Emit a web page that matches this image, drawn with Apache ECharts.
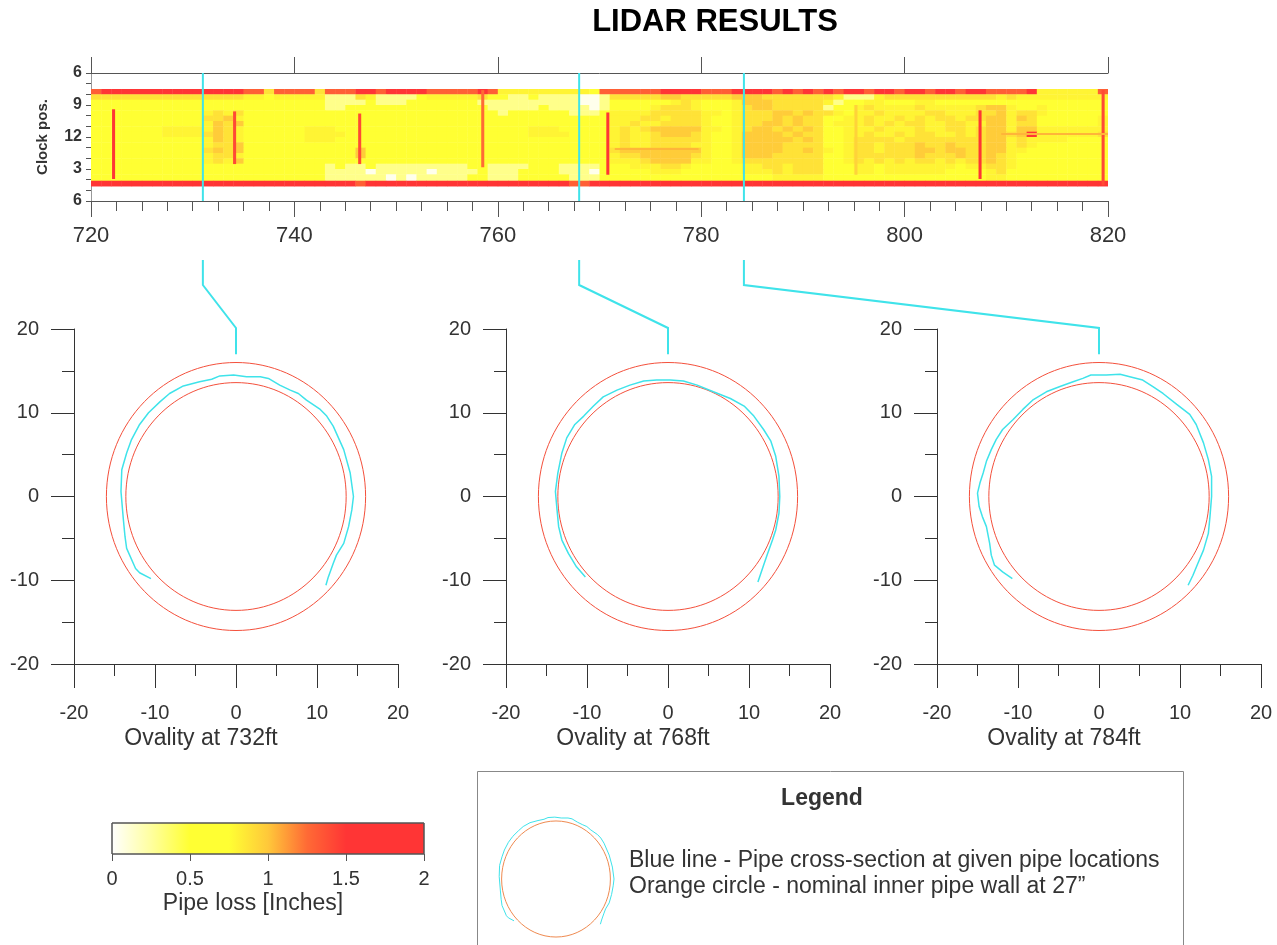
<!DOCTYPE html>
<html>
<head>
<meta charset="UTF-8">
<title>LIDAR RESULTS</title>
<style>
    html, body { margin: 0; padding: 0; background: #fff; }
    #main { width: 1277px; height: 945px; }
</style>
<script src="https://cdn.jsdelivr.net/npm/echarts@6/dist/echarts.min.js"></script>
</head>
<body>
<div id="main"></div>
<script>
// ---- data ----
var ftMin = 720, ftMax = 820;
var clockLabels = ['6', '9', '12', '3', '6'];          // one label every 3 hours, top to bottom
var rowEdges = [1.5, 2.0, 2.5, 3.0, 3.5, 4.0, 4.5, 5.0, 5.5, 6.0, 6.5, 7.0, 7.5, 8.0, 8.5, 9.0, 9.5, 10.1, 10.6];

// one character per foot (720 .. 819), one string per clock band
// w white, p pale, y yellow, s slight speckle, o orange speckle, O dense orange, R orange-red, r red
var stripRows = [
    "Rrrrrrrrrr rrrrrRRoRR RRoRRRrrRr rrrRRRRRrR sssssssssy RRRRRRrrrr RRRrrrrRrR rRrRrrRrrR rrRrrRrrRR RRrssssssR",
    "oooooooooo ooooossyss ssspppospp ppysssssoy yppyppppww poooooOOoo oooOOOoooo ooospppsoo ooooooooos osssssssss",
    "yyyyyyyyyy yyyyyyyyyy yyyppppypp pyyyyyyypp ppppppppww pyyyyyysos yyysOOOooo oospyyssyy yssyyyyyyy yyyyyyyyyy",
    "yyyyyyyyyy yyyyyyyyyy yyyppyyyyy yyyyyyyyyp ppppyppppw pyyyysooos yyysoOOooo oopyysosss sosssssoOO syysyyyyyy",
    "yyyyyyyyyy ysosoyyyyy yyyyyyyyyy yyyyyyyyyy pyyyyyyppp yssssooooo ssysoooOOo Ooosyssoss ssoosssooO soosyyyyyy",
    "yyyyyyyyyy yooOsyyyyy yyyyyyyyyy yyyyyyyyyy yyyyyyyyyy ysssoosooo syysoooOoO ooyyssosso sosoosooOO sOoyyyyyys",
    "yyyyyyyyyy ysOoOyyyyy yyyyyyyyyy yyyyyyyyyy yyyyyyyyyy yssossoooo syysooOOoO ooysssosos oossoossOO sooyyyyyys",
    "yyyyyyysss ssOosyyyyy ysssyyyyyy yyyyyyyyyy yyysssyyyy ysosoOOOOO ssysoOOoOo Ooyysssoss sossoosoOO sOOsssssss",
    "yyyyyyysss soOosyyyyy yssssyyyyy yyyyyyyyyy yyyssssyyy ysossoOOOo syysOOOOoO ooyyssosso soossosoOO oOrsssssso",
    "yyyyyyyyyy ysOosyyyyy ysssyyyyyy yyyyyyyyyy yyyyyyyyyy ysossooooo syysOOOOOo Ooyysoooos ooooooooOO sossssyyyy",
    "yyyyyyyyyy ysooOyyyyy yyyyyyyyyy yyyyyyyyyy yyyyyyyyyy ysossoooos syysOOOOoo ooyysoosoo oOooOoooOO sosyyyyyyy",
    "yyyyyyyyyy yoOoOyyyyy yyyyyyOyyy yyyyyyyyyy yyyyyyyyyy yoOOOOOOOO syysOOOOoo Oosysoosoo oOOoOOooOO ssyyyyyyyy",
    "yyyyyyyyyy ysoosyyyyy yyyyyyOyyy yyyyyyyyyy yyyyyyyyyy ysooOOOOOo syysOOOooo ooyysooooo oOoooOooOo syyyyyyyyy",
    "yyyyyyyyyy ysosOyyyyy yyyyyyyyyy yyyyyyyyyy yyyyyyyyyy ysssoOOOOs syysoooooo ooyysososo soososooOo syyyyyyyyy",
    "yyyyyyyyyy yyyyyyyyyy yyypyppypp pppppppyyp pppyyypppp yyysssoosy yyyyssooso ooyyyssyss sssssyssoo syyyyyyyyy",
    "yyyyyyyyyy yyyyyyyyyy yyyppppwpp pppwppppyp ppyyyypppw yyyyysssyy yyyysssoso ooyyyssyss ssssyyyyso yyyyyyyyyy",
    "yyyyyyyyyy yyyyyyyyyy yyyppppppw pwpppppyyp ppyyyyyppp yyyyyyyyyy yyyyyyysss ssyyyyyyyy yyyyyyyyss yyyyyyyyyy",
    "rrrrrrrrrr rrrrrrrrrr rrrrrrRrrr rrrrrrrrrr rrrrrrrRRr rrrrrrrrrr rrrrrrrrrr rrrrrrrrrr rrrrrrrrrr rrrrrrrrrr"
];
var lossCode = { w: 0.05, p: 0.3, y: 0.6, s: 0.8, o: 0.88, O: 0.98, R: 1.3, r: 1.6 };

// thin vertical red lines: ft, from hour, to hour, loss
var redStreaks = [
    [722.2, 3.4, 9.9, 1.5], [734.1, 3.6, 8.5, 1.4], [746.4, 3.8, 8.5, 1.4], [758.5, 1.6, 8.8, 1.25],
    [770.8, 3.7, 9.5, 1.6], [795.2, 3.0, 9.5, 0.95], [807.4, 3.5, 9.9, 1.5], [819.5, 1.6, 10.5, 1.4]
];
// thin horizontal orange lines: from ft, to ft, hour, loss
var orangeLines = [[771.5, 779.7, 7.1, 1.05], [809.5, 820, 5.7, 1.05]];

var cutFt = [731, 768, 784.2];
var cutNames = ['Ovality at 732ft', 'Ovality at 768ft', 'Ovality at 784ft'];
var pipeRadii = [16, 13.6];

var trace732 = [[-10.5,-9.8],[-11.9,-9.1],[-12.4,-8.6],[-13.5,-6.2],[-13.7,-4.8],[-13.9,-2.8],[-14.2,0.6],[-14.1,3.2],[-13.5,5.2],[-12.9,6.8],[-11.9,8.6],[-10.8,10.0],[-9.4,11.3],[-8.2,12.3],[-6.5,13.2],[-4.5,13.7],[-3.0,14.0],[-2.0,14.4],[-0.3,14.5],[1.3,14.3],[3.0,14.3],[4.0,14.1],[5.4,13.3],[6.7,12.7],[7.7,12.3],[8.7,11.5],[10.4,10.4],[11.2,9.6],[12.0,8.4],[13.3,5.6],[14.1,2.8],[14.5,0],[14.3,-1.6],[13.9,-3.6],[13.3,-5.6],[12.4,-7.0],[12.0,-8.0],[11.4,-9.6],[11.1,-10.6]];
var trace768 = [[-10.2,-9.6],[-11.3,-8.4],[-12.3,-6.8],[-13.1,-5.2],[-13.5,-3.6],[-13.7,-1.6],[-13.9,0.6],[-13.6,2.8],[-13.1,5.2],[-12.5,7.0],[-11.5,8.6],[-10.4,9.6],[-9.2,10.8],[-8.0,11.9],[-6.3,12.7],[-4.7,13.3],[-3.0,13.8],[-1.4,13.9],[0.3,13.9],[1.9,13.8],[3.6,13.3],[5.6,12.5],[7.7,11.7],[9.4,10.8],[10.6,9.6],[11.8,8.0],[12.7,6.6],[13.3,4.8],[13.7,2.4],[13.8,0],[13.7,-2.0],[13.3,-4.0],[12.9,-5.2],[12.3,-6.8],[11.8,-8.2],[11.1,-10.2]];
var trace784 = [[-10.7,-9.8],[-11.9,-9.0],[-12.9,-8.2],[-13.3,-7.0],[-13.5,-5.6],[-13.9,-3.6],[-14.4,-2.4],[-14.8,-1.2],[-15.0,0.4],[-14.7,1.6],[-14.3,2.8],[-13.9,4.2],[-13.3,5.6],[-12.7,6.8],[-11.9,8.0],[-10.6,9.2],[-9.4,10.4],[-8.2,11.5],[-6.5,12.5],[-4.9,13.1],[-3.2,13.7],[-2.0,14.1],[-1.0,14.5],[0.9,14.5],[2.6,14.6],[3.8,14.3],[5.4,13.9],[6.7,13.1],[7.9,12.3],[9.6,11.0],[11.2,9.8],[12.0,8.6],[12.9,6.4],[13.5,4.4],[13.9,2.4],[13.9,0],[13.7,-2.4],[13.5,-4.4],[12.9,-6.4],[12.2,-8.0],[11.6,-9.4],[11.0,-10.6]];
var traces = [trace732, trace768, trace784];

// colour scale of the pipe loss, one colour every 0.25 inch from 0 to 2
var lossColors = ['#ffffff', '#ffffa0', '#ffff33', '#ffff33', '#ffc83a', '#ff6a35', '#ff3535', '#ff3535', '#ff3535'];

// ---- build ----
var FONT = "'Liberation Sans', Arial, sans-serif";
var CYAN = '#3fe3ea';
var PIPE = '#f4503c';
var TXT = '#333';

var stripData = [];
stripRows.forEach(function (row, r) {
    var chars = row.replace(/ /g, '');
    for (var i = 0; i < chars.length; i++) {
        var v = lossCode[chars[i]];
        if (v === undefined) v = 0.6;
        stripData.push([ftMin + i, rowEdges[r], ftMin + i + 1, rowEdges[r + 1], v]);
    }
});
redStreaks.forEach(function (s) {
    stripData.push([s[0] - 0.13, s[1], s[0] + 0.13, s[2], s[3]]);
});
orangeLines.forEach(function (s) {
    stripData.push([s[0], s[2] - 0.08, s[1], s[2] + 0.08, s[3]]);
});

function renderCell(params, api) {
    var a = api.coord([api.value(0), api.value(1)]);
    var b = api.coord([api.value(2), api.value(3)]);
    return {
        type: 'rect',
        shape: { x: a[0], y: a[1], width: b[0] - a[0] + 0.4, height: b[1] - a[1] + 0.4 },
        style: { fill: api.visual('color') }
    };
}

function circleRenderer(color) {
    return function (params, api) {
        var c = api.coord([api.value(0), api.value(1)]);
        var s = api.size([api.value(2), api.value(2)]);
        return {
            type: 'ellipse',
            shape: { cx: c[0], cy: c[1], rx: s[0], ry: s[1] },
            style: { fill: 'none', stroke: color, lineWidth: 1 }
        };
    };
}

function renderBar(params, api) {
    var a = api.coord([api.value(0), 1]);
    var b = api.coord([api.value(1), 0]);
    var stops = lossColors.map(function (c, i) {
        return { offset: i / (lossColors.length - 1), color: c };
    });
    return {
        type: 'rect',
        shape: { x: a[0], y: a[1], width: b[0] - a[0], height: b[1] - a[1] },
        style: { fill: new echarts.graphic.LinearGradient(0, 0, 1, 0, stops), stroke: '#555', lineWidth: 1 }
    };
}

var plotLefts = [74, 506, 937];

var grids = [{ left: 91, top: 73, width: 1017, height: 128 }];
plotLefts.forEach(function (l) {
    grids.push({ left: l, top: 329, width: 324, height: 335 });
});
grids.push({ left: 112, top: 823, width: 312, height: 31 });   // colour bar
grids.push({ left: 496, top: 815, width: 120, height: 128 });  // legend icon

var xAxes = [
    {
        gridIndex: 0, type: 'value', min: ftMin, max: ftMax, interval: 20, position: 'bottom',
        axisLine: { onZero: false, lineStyle: { color: '#555' } },
        axisTick: { length: 16, lineStyle: { color: '#555' } },
        minorTick: { show: true, splitNumber: 8, length: 10, lineStyle: { color: '#555' } },
        axisLabel: { fontSize: 22, color: TXT, margin: 24, fontFamily: FONT },
        splitLine: { show: false }, minorSplitLine: { show: false }
    },
    {
        gridIndex: 0, type: 'value', min: ftMin, max: ftMax, interval: 20, position: 'top',
        axisLine: { onZero: false, lineStyle: { color: '#555' } },
        axisTick: { length: 16, lineStyle: { color: '#555' } },
        axisLabel: { show: false },
        splitLine: { show: false }
    }
];
var yAxes = [
    {
        gridIndex: 0, type: 'value', min: 0, max: 12, interval: 3, inverse: true,
        axisLine: { onZero: false, lineStyle: { color: '#999' } },
        axisTick: { length: 5, lineStyle: { color: '#555' } },
        minorTick: { show: true, splitNumber: 3, length: 5, lineStyle: { color: '#555' } },
        axisLabel: {
            fontSize: 16, fontWeight: 'bold', color: TXT, margin: 9, fontFamily: FONT,
            formatter: function (v) { return clockLabels[Math.round(v / 3)]; }
        },
        name: 'Clock pos.', nameLocation: 'middle', nameGap: 41, nameRotate: 90,
        nameTextStyle: { fontSize: 15, fontWeight: 'bold', color: TXT, fontFamily: FONT },
        splitLine: { show: false }, minorSplitLine: { show: false }
    }
];
cutNames.forEach(function (name, i) {
    xAxes.push({
        gridIndex: i + 1, type: 'value', min: -20, max: 20, interval: 10,
        axisLine: { onZero: false, lineStyle: { color: '#333' } },
        axisTick: { length: 24, lineStyle: { color: '#333' } },
        minorTick: { show: true, splitNumber: 2, length: 12, lineStyle: { color: '#333' } },
        axisLabel: { fontSize: 20, color: TXT, margin: 39, fontFamily: FONT },
        name: name, nameLocation: 'middle', nameGap: 63,
        nameTextStyle: { fontSize: 23, color: TXT, fontFamily: FONT, padding: [0, 70, 0, 0] },
        splitLine: { show: false }, minorSplitLine: { show: false }
    });
    yAxes.push({
        gridIndex: i + 1, type: 'value', min: -20, max: 20, interval: 10,
        axisLine: { onZero: false, lineStyle: { color: '#333' } },
        axisTick: { length: 23, lineStyle: { color: '#333' } },
        minorTick: { show: true, splitNumber: 2, length: 12, lineStyle: { color: '#333' } },
        axisLabel: { fontSize: 20, color: TXT, margin: 35, fontFamily: FONT },
        splitLine: { show: false }, minorSplitLine: { show: false }
    });
});
xAxes.push({
    gridIndex: 4, type: 'value', min: 0, max: 2, interval: 0.5,
    axisLine: { show: false },
    axisTick: { length: 7, lineStyle: { color: '#555' } },
    axisLabel: { fontSize: 20, color: TXT, margin: 15, fontFamily: FONT },
    name: 'Pipe loss [Inches]', nameLocation: 'middle', nameGap: 38,
    nameTextStyle: { fontSize: 23, color: TXT, fontFamily: FONT, padding: [0, 30, 0, 0] },
    splitLine: { show: false }
});
yAxes.push({ gridIndex: 4, type: 'value', min: 0, max: 1, show: false });
xAxes.push({ gridIndex: 5, type: 'value', min: -15, max: 15, show: false });
yAxes.push({ gridIndex: 5, type: 'value', min: -15, max: 15, show: false });

var series = [{
    type: 'custom', name: 'strip', xAxisIndex: 0, yAxisIndex: 0,
    renderItem: renderCell, encode: { x: [0, 2], y: [1, 3] },
    data: stripData, clip: true, silent: true
}];
cutFt.forEach(function (ft) {
    series.push({
        type: 'line', xAxisIndex: 0, yAxisIndex: 0, z: 5, symbol: 'none',
        lineStyle: { color: CYAN, width: 2 },
        data: [[ft, 0], [ft, 12]]
    });
});
traces.forEach(function (t, i) {
    series.push({
        type: 'custom', xAxisIndex: i + 2, yAxisIndex: i + 1,
        renderItem: circleRenderer(PIPE),
        data: pipeRadii.map(function (r) { return [0, 0, r]; })
    });
    series.push({
        type: 'line', xAxisIndex: i + 2, yAxisIndex: i + 1, symbol: 'none', z: 4,
        lineStyle: { color: CYAN, width: 1.5 },
        data: t
    });
});
series.push({
    type: 'custom', xAxisIndex: 5, yAxisIndex: 4,
    renderItem: renderBar, data: [[0, 2]]
});
series.push({
    type: 'custom', xAxisIndex: 6, yAxisIndex: 5,
    renderItem: circleRenderer('#ef8a50'),
    data: [[0, 0, pipeRadii[1]]]
});
series.push({
    type: 'line', xAxisIndex: 6, yAxisIndex: 5, symbol: 'none',
    lineStyle: { color: CYAN, width: 1 },
    data: trace732
});

var myChart = echarts.init(document.getElementById('main'));
myChart.setOption({
    animation: false,
    backgroundColor: '#fff',
    textStyle: { fontFamily: FONT },
    grid: grids,
    xAxis: xAxes,
    yAxis: yAxes,
    visualMap: {
        type: 'continuous', show: false, min: 0, max: 2, dimension: 4, seriesIndex: 0,
        inRange: { color: lossColors }
    },
    series: series
});

// title, legend box and the connectors from the cut lines down to each cross-section
var graphics = [
    {
        type: 'text', x: 715, y: 22,
        style: { text: 'LIDAR RESULTS', fontSize: 31, fontWeight: 'bold', fill: '#000', fontFamily: FONT, align: 'center', verticalAlign: 'middle' }
    },
    {
        type: 'rect', shape: { x: 477.5, y: 771.5, width: 706, height: 200 },
        style: { fill: 'none', stroke: '#888', lineWidth: 1 }
    },
    {
        type: 'text', x: 822, y: 799,
        style: { text: 'Legend', fontSize: 23, fontWeight: 'bold', fill: TXT, fontFamily: FONT, align: 'center', verticalAlign: 'middle' }
    },
    {
        type: 'text', x: 629, y: 861,
        style: { text: 'Blue line - Pipe cross-section at given pipe locations', fontSize: 23, fill: TXT, fontFamily: FONT, verticalAlign: 'middle' }
    },
    {
        type: 'text', x: 629, y: 887,
        style: { text: 'Orange circle - nominal inner pipe wall at 27\u201D', fontSize: 23, fill: TXT, fontFamily: FONT, verticalAlign: 'middle' }
    }
];
cutFt.forEach(function (ft, i) {
    var xTop = myChart.convertToPixel({ xAxisIndex: 0 }, ft);
    var p20 = myChart.convertToPixel({ gridIndex: i + 1 }, [0, 20]);
    var p17 = myChart.convertToPixel({ gridIndex: i + 1 }, [0, 17]);
    graphics.push({
        type: 'polyline',
        shape: { points: [[xTop, 260], [xTop, 285], [p20[0], p20[1] - 1], [p17[0], p17[1]]] },
        style: { stroke: CYAN, lineWidth: 2, fill: null }
    });
});
myChart.setOption({ graphic: graphics });
</script>
</body>
</html>
